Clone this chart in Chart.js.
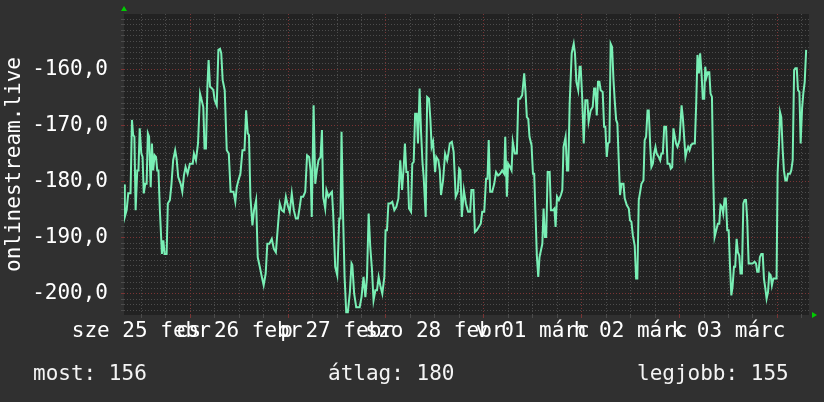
<!DOCTYPE html>
<html>
<head>
<meta charset="utf-8">
<script src="https://cdn.jsdelivr.net/npm/chart.js@4.4.1/dist/chart.umd.min.js"></script>
<style>
  html, body { margin: 0; padding: 0; background: #303030; }
  #wrap { position: relative; width: 824px; height: 402px; }
  .stat { position: absolute; top: 361px; font: 21px "DejaVu Sans Mono", monospace; color: #f4f4f4; line-height: 24px; white-space: pre; }
</style>
</head>
<body>
<div id="wrap">
  <canvas id="c" width="824" height="402"></canvas>
  <div class="stat" style="left:33px">most: 156</div>
  <div class="stat" style="left:328px">átlag: 180</div>
  <div class="stat" style="left:637px">legjobb: 155</div>
</div>
<script>
// hours counted from 25 Feb 00:00
var hours = [
  7.75, 7.95, 8.4, 8.8, 9.35, 9.7, 10.0, 10.3, 10.6, 11.0, 11.3, 11.6, 12.0, 12.3, 12.6, 12.95,
  13.3, 13.6, 13.9, 14.3, 14.6, 14.9, 15.25, 15.6, 15.9, 16.2, 16.55, 17.05, 17.4, 17.7, 18.2, 18.5,
  19.0, 19.4, 19.8, 20.3, 20.65, 21.05, 21.65, 22.05, 22.45, 22.85, 23.35, 23.9, 24.6, 24.9, 25.4, 25.9,
  26.4, 26.8, 27.2, 27.5, 27.85, 28.2, 28.5, 28.85, 29.35, 29.65, 30.0, 30.5, 30.9, 31.3, 31.6, 31.95,
  32.45, 32.95, 33.45, 33.9, 34.6, 35.05,
  35.4, 35.8, 36.3, 36.8, 37.3, 37.7, 38.1, 38.4, 38.75, 39.25, 39.65, 40.15, 40.55, 41.05, 41.55, 42.0,
  42.5, 42.9, 43.4, 44.0, 44.5, 45.0, 45.45, 45.95, 46.45, 46.95, 47.45, 47.9, 48.4, 48.9, 49.4, 49.9,
  50.4, 50.85, 51.2, 51.7, 52.2, 52.65, 53.15, 53.5, 53.8, 54.25, 54.65, 55.05, 55.45, 55.95, 56.3, 56.6,
  57.1, 57.4, 57.9, 58.4, 58.75, 59.05, 59.55, 60.05, 60.55, 60.85, 61.1, 61.5, 61.85, 62.25, 62.65, 63.15,
  63.55, 63.75, 64.2, 64.7, 65.55, 66.0, 66.5, 66.95, 67.35, 67.75, 68.15, 68.55, 68.95, 69.4, 69.8, 70.2,
  70.6, 71.1, 71.6, 71.9, 72.25, 72.6, 73.05, 73.55, 74.05, 74.55, 75.05, 75.5, 75.95, 76.35, 76.65, 77.0,
  77.35, 77.65, 78.15, 78.45, 78.8, 79.15, 79.55, 79.85, 80.25, 80.6, 80.95, 81.25, 81.75, 82.1, 82.55, 82.9,
  83.2, 83.55, 84.05, 84.35, 84.85, 85.2, 85.5, 86.0, 86.5, 87.0, 87.3, 87.65, 88.15, 88.6, 89.1, 89.6,
  89.95, 90.25, 90.6, 91.1, 91.6, 92.15, 92.65, 92.95, 93.45, 93.8, 94.25, 94.75, 95.25, 95.6, 96.1, 96.55,
  96.9, 97.2, 97.55, 98.05, 98.55, 99.0, 99.5, 100.0, 100.5, 101.0, 101.25, 101.65, 101.95, 102.45, 102.8, 103.1,
  103.6, 104.1, 104.45, 104.9, 105.4, 105.9, 106.25, 106.55, 106.9, 107.2, 107.7, 108.05, 108.35, 108.7, 109.0, 109.35,
  109.65, 110.0, 110.35, 110.65, 111.0, 111.3, 111.65, 112.15, 112.45, 112.95, 113.3, 113.6, 113.95, 114.4, 114.9, 115.25,
  115.55, 116.05, 116.4, 116.7, 117.05, 117.55, 118.05, 118.35, 118.7, 119.15, 119.5, 119.75, 120.1, 120.5, 120.9, 121.4,
  121.7, 122.2, 122.7, 123.05, 123.35, 123.7, 124.0, 124.35, 124.65, 125.15, 125.5, 125.8, 126.15, 126.45, 126.8, 127.1,
  127.45, 127.8, 128.1, 128.45, 128.75, 129.1, 129.4, 129.75, 130.25, 130.55, 131.05, 131.55, 131.85, 132.2, 132.55, 133.0,
  133.35, 133.65, 134.0, 134.35, 134.65, 135.15, 135.45, 135.8, 136.15, 136.45, 136.8, 137.1, 137.45, 137.75, 138.1, 138.4,
  138.9, 139.25, 139.55, 139.9, 140.25, 140.7, 141.05, 141.55, 141.85, 142.2, 142.5, 142.85, 143.15, 143.5, 144.0, 144.5,
  144.8, 145.15, 145.45, 145.8, 146.1, 146.45, 146.8, 147.25, 147.75, 148.1, 148.4, 148.75, 149.05, 149.4, 149.7, 150.05,
  150.3, 150.6, 150.95, 151.3, 151.6, 151.95, 152.25, 152.6, 152.9, 153.4, 153.75, 154.05, 154.4, 154.7, 155.05, 155.35,
  155.7, 156.05, 156.35, 156.7, 157.0, 157.35, 157.65, 158.0, 158.3, 158.65, 158.95, 159.3, 159.65, 159.95, 160.3, 160.6,
  160.95, 161.45, 161.9, 162.4, 162.75, 163.05, 163.4, 163.7, 164.05, 164.4, 164.7, 165.05, 165.35, 165.7, 166.0, 166.35,
  166.65, 167.0, 167.35, 167.8, 168.05, 168.4, 168.65, 168.95, 169.3, 169.6, 169.95, 170.3, 170.6, 171.1, 171.4, 171.75,
  172.1, 172.4, 172.75, 173.05, 173.4, 173.7, 174.05, 174.35, 174.7, 175.05
];
var values = [
  -180.5, -186.3, -185.1, -182.1, -182.1, -169.0, -171.7, -172.0, -185.1, -178.0, -178.0, -170.5, -175.0, -175.6, -182.1, -180.4,
  -180.4, -171.4, -172.0, -181.0, -173.2, -178.0, -175.3, -175.6, -178.0, -178.0, -185.1, -192.9, -190.5, -192.9, -192.9, -183.9,
  -183.3, -180.4, -176.2, -174.4, -175.9, -179.2, -180.4, -181.8, -178.9, -177.4, -178.6, -176.8, -176.8, -175.0, -176.2, -173.2,
  -164.3, -165.5, -166.7, -174.1, -174.1, -163.1, -158.3, -163.1, -163.4, -163.7, -165.5, -166.4, -156.5, -156.3, -157.1, -161.9,
  -163.7, -174.4, -175.0, -181.8, -181.8, -183.6,
  -181.0, -179.8, -178.6, -174.4, -174.4, -167.3, -171.4, -171.7, -182.7, -187.8, -185.1, -183.3, -193.5, -195.2, -197.0, -198.5,
  -196.4, -191.1, -191.1, -190.2, -192.0, -192.6, -188.4, -183.9, -185.1, -185.4, -182.7, -184.2, -185.4, -182.1, -185.1, -186.6,
  -186.6, -184.5, -182.7, -182.7, -181.8, -175.3, -175.6, -178.0, -186.3, -166.4, -180.4, -178.0, -176.2, -175.6, -170.8, -182.7,
  -184.8, -181.5, -182.7, -182.1, -181.8, -185.7, -195.2, -196.7, -186.6, -186.6, -171.1, -186.6, -197.0, -203.3, -203.3, -199.7,
  -194.6, -194.9, -200.0, -202.4, -202.4, -200.6, -197.0, -200.6, -197.0, -185.7, -191.7, -195.5, -201.2, -199.4, -199.4, -197.0,
  -198.5, -200.0, -197.0, -188.7, -188.7, -183.9, -183.9, -183.6, -185.1, -184.5, -183.0, -176.2, -181.5, -177.4, -173.2, -178.3,
  -178.3, -184.8, -185.4, -176.8, -176.5, -167.9, -167.9, -173.2, -163.4, -171.1, -176.5, -179.2, -186.3, -164.9, -165.2, -169.0,
  -173.8, -172.9, -178.3, -175.6, -176.2, -178.0, -182.4, -179.8, -175.0, -176.2, -175.0, -173.2, -172.9, -174.7, -182.7, -181.8,
  -177.7, -178.0, -186.3, -181.5, -183.9, -185.4, -185.4, -181.5, -181.5, -189.0, -188.7, -188.1, -187.5, -185.4, -185.4, -179.5,
  -179.5, -172.6, -181.8, -181.8, -180.4, -178.3, -178.9, -178.6, -178.0, -178.6, -172.0, -182.7, -176.8, -177.4, -178.0, -172.9,
  -175.0, -175.0, -165.2, -165.2, -164.6, -160.7, -164.3, -168.5, -168.8, -172.0, -173.5, -178.6, -178.6, -186.3, -193.2, -197.0,
  -193.5, -192.3, -191.1, -184.8, -189.9, -189.9, -178.3, -178.3, -185.1, -185.1, -184.8, -188.1, -182.7, -183.3, -182.4, -181.5,
  -173.8, -172.0, -178.0, -178.0, -166.1, -157.1, -155.4, -157.1, -162.2, -163.7, -159.5, -159.5, -164.6, -173.2, -165.5, -165.5,
  -169.3, -167.3, -166.7, -163.4, -163.4, -168.2, -162.2, -162.2, -163.7, -164.0, -170.2, -170.2, -175.6, -173.2, -172.9, -155.4,
  -156.0, -161.9, -165.5, -169.0, -169.6, -176.5, -182.4, -180.4, -180.4, -183.0, -184.2, -184.8, -186.9, -187.2, -189.6, -191.4,
  -197.3, -197.3, -183.3, -181.8, -180.4, -179.8, -172.6, -172.0, -167.3, -167.3, -173.5, -177.4, -176.8, -175.0, -173.8, -175.0,
  -175.6, -176.2, -175.0, -175.0, -170.2, -170.2, -176.8, -176.8, -177.7, -177.4, -170.5, -172.0, -173.2, -173.8, -172.6, -166.4,
  -168.5, -172.3, -175.6, -174.4, -173.8, -174.4, -173.5, -173.2, -173.2, -165.8, -157.4, -160.7, -157.1, -160.7, -165.2, -165.2,
  -159.5, -161.4, -160.5, -160.5, -164.3, -164.9, -178.6, -189.9, -189.0, -187.5, -187.5, -184.2, -184.5, -185.7, -183.0, -183.0,
  -188.7, -188.7, -194.6, -200.3, -198.8, -195.2, -195.2, -190.2, -192.6, -193.2, -196.4, -196.4, -183.9, -183.3, -183.3, -186.9,
  -194.6, -194.6, -194.6, -194.3, -194.6, -196.1, -196.1, -193.5, -192.9, -192.9, -197.3, -199.1, -200.9, -199.7, -196.4, -196.7,
  -198.5, -197.3, -197.3, -197.3, -178.6, -173.2, -167.6, -168.5, -174.4, -178.0, -179.8, -179.8, -178.6, -178.6, -178.0, -176.2,
  -160.1, -159.8, -159.8, -163.7, -164.0, -173.2, -167.0, -164.3, -162.2, -156.5
];

// x axis: grid every 6 h, labels at noon
var gridHours = [12, 18, 24, 30, 36, 42, 48, 54, 60, 66, 72, 78, 84, 90, 96, 102, 108, 114,
                 120, 126, 132, 138, 144, 150, 156, 162, 168, 174];
var labelHours = [12, 36, 60, 84, 108, 132, 156];
var dayLabels = ['sze 25 febr', 'cs 26 febr', 'p 27 febr', 'szo 28 febr', 'v 01 márc', 'h 02 márc', 'k 03 márc'];

var xMin = 7.75, xMax = 175.75;
var yMin = -203.8, yMax = -150.1;

var BG = '#303030';
var PLOT_BG = '#222222';
var MINOR = '#4c4c4c';
var MAJOR = '#7a3434';
var LINE = '#79efb5';
var FONT = 'DejaVu Sans Mono';

var backdrop = {
  id: 'backdrop',
  beforeDraw: function(chart) {
    var c = chart.ctx, a = chart.chartArea;
    c.save();
    c.fillStyle = BG;
    c.fillRect(0, 0, chart.width, chart.height);
    c.fillStyle = PLOT_BG;
    c.fillRect(a.left, a.top, a.right - a.left, a.bottom - a.top);
    c.restore();
  },
  afterDraw: function(chart) {
    // little green arrows at the axis ends
    var c = chart.ctx, a = chart.chartArea;
    c.save();
    c.fillStyle = '#00cc00';
    c.beginPath();
    c.moveTo(a.left - 3, a.top - 3);
    c.lineTo(a.left + 3, a.top - 3);
    c.lineTo(a.left, a.top - 8);
    c.closePath();
    c.fill();
    c.beginPath();
    c.moveTo(a.right + 3, a.bottom - 3);
    c.lineTo(a.right + 3, a.bottom + 3);
    c.lineTo(a.right + 8, a.bottom);
    c.closePath();
    c.fill();
    c.restore();
  }
};

var points = hours.map(function(h, i) { return { x: h, y: values[i] }; });

new Chart(document.getElementById('c'), {
  type: 'line',
  data: {
    datasets: [{
      data: points,
      borderColor: LINE,
      borderWidth: 2,
      pointRadius: 0,
      tension: 0,
      fill: false
    }]
  },
  options: {
    responsive: false,
    animation: false,
    devicePixelRatio: 1,
    layout: { padding: { left: 0, top: 14, right: 15, bottom: 0 } },
    plugins: { legend: { display: false }, tooltip: { enabled: false } },
    scales: {
      x: {
        type: 'linear',
        min: xMin,
        max: xMax,
        afterBuildTicks: function(scale) {
          scale.ticks = gridHours.map(function(v) { return { value: v }; });
        },
        afterFit: function(scale) {
          scale.height = 87;
          scale.paddingLeft = 0;
          scale.paddingRight = 0;
        },
        grid: {
          color: function(ctx) { return ctx.tick && ctx.tick.value % 24 === 0 ? MAJOR : MINOR; },
          lineWidth: 1,
          tickLength: 3,
          tickBorderDash: []
        },
        border: { display: false, dash: [1, 2] },
        ticks: {
          autoSkip: false,
          maxRotation: 0,
          minRotation: 0,
          padding: 1,
          color: '#ffffff',
          font: { family: FONT, size: 21 },
          callback: function(v) {
            var i = labelHours.indexOf(v);
            return i >= 0 ? dayLabels[i] : '';
          }
        }
      },
      y: {
        type: 'linear',
        min: yMin,
        max: yMax,
        afterFit: function(scale) {
          scale.width = 124;
          scale.paddingTop = 0;
          scale.paddingBottom = 0;
        },
        title: {
          display: true,
          text: 'onlinestream.live',
          color: '#ffffff',
          font: { family: FONT, size: 21 },
          padding: { top: 2, bottom: 0 }
        },
        grid: {
          color: function(ctx) { return ctx.tick && ctx.tick.value % 10 === 0 ? MAJOR : MINOR; },
          lineWidth: 1,
          tickLength: 3,
          tickBorderDash: []
        },
        border: { display: false, dash: [1, 2] },
        ticks: {
          stepSize: 1,
          includeBounds: false,
          autoSkip: false,
          padding: 13,
          color: '#ffffff',
          font: { family: FONT, size: 21 },
          callback: function(v) {
            return v % 10 === 0 ? v.toFixed(1).replace('.', ',') : '';
          }
        }
      }
    }
  },
  plugins: [backdrop]
});
</script>
</body>
</html>
